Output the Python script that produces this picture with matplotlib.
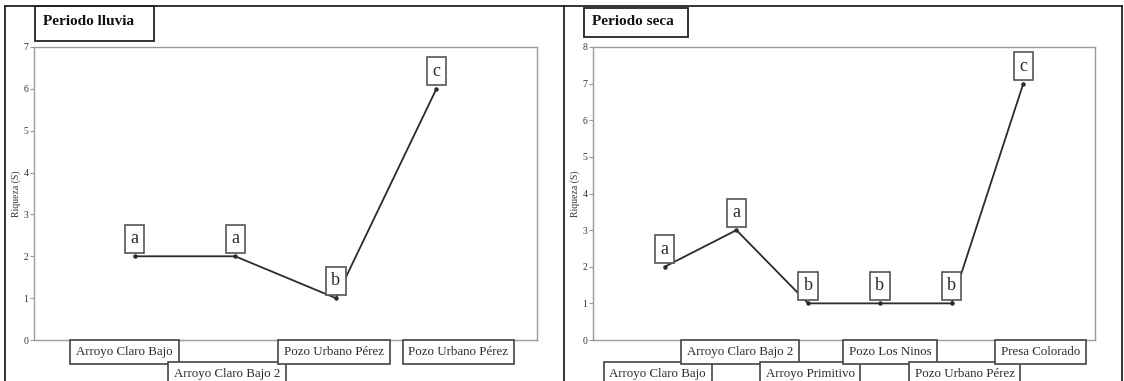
import matplotlib
matplotlib.use("Agg")
import matplotlib.pyplot as plt
from matplotlib.lines import Line2D
from matplotlib.patches import Rectangle

plt.rcParams["font.family"] = ["Liberation Serif", "DejaVu Serif"]

# ---- data -------------------------------------------------------------
lluvia_sitios = ["Arroyo Claro Bajo", "Arroyo Claro Bajo 2",
                 "Pozo Urbano Pérez", "Pozo Urbano Pérez"]
lluvia_riqueza = [2, 2, 1, 6]
lluvia_letras = ["a", "a", "b", "c"]

seca_sitios = ["Arroyo Claro Bajo", "Arroyo Claro Bajo 2", "Arroyo Primitivo",
               "Pozo Los Ninos", "Pozo Urbano Pérez", "Presa Colorado"]
seca_riqueza = [2, 3, 1, 1, 1, 7]
seca_letras = ["a", "a", "b", "b", "b", "c"]

# ---- layout helpers ---------------------------------------------------
W, H = 1124, 381
fig = plt.figure(figsize=(W / 100, H / 100), dpi=100)
fig.patch.set_facecolor("white")


def fx(px):
    return px / W


def fy(py):
    return 1 - py / H


GRID = "#9a9a9a"
INK = "#2b2b2b"


def panel(x0, x1, ymax, sitios, riqueza, letras, rows, dx, titulo, tbox):
    ax = fig.add_axes([fx(x0), fy(340), fx(x1 - x0), (340 - 47) / H])
    n = len(sitios)
    xs = list(range(1, n + 1))
    ax.set_xlim(0, n + 1)
    ax.set_ylim(0, ymax)
    ax.set_yticks(range(0, ymax + 1))
    ax.set_xticks([])
    for s in ax.spines.values():
        s.set_color(GRID)
        s.set_linewidth(1.0)
    ax.tick_params(axis="y", direction="out", length=3, width=0.8,
                   color=GRID, labelsize=7, labelcolor="#333333", pad=1)
    ax.set_ylabel("Riqueza (S)", fontsize=7, color="#333333")
    ax.yaxis.set_label_coords(-13 / (x1 - x0), 0.5)

    ax.plot(xs, riqueza, color=INK, lw=1.3, marker="o", ms=2.2,
            mfc=INK, mec=INK, zorder=3)

    for x, y, l in zip(xs, riqueza, letras):
        ax.annotate(l, xy=(x, y), xytext=(0, 9), textcoords="offset pixels",
                    ha="center", va="bottom", fontsize=13, color=INK,
                    bbox=dict(boxstyle="square,pad=0.3", fc="white",
                              ec="#555555", lw=1.2),
                    annotation_clip=False, zorder=4)

    for x, s, r, d in zip(xs, sitios, rows, dx):
        off = -12 if r == 0 else -34
        ax.annotate(s, xy=(x, 0), xycoords=("data", "axes fraction"),
                    xytext=(d, off), textcoords="offset pixels",
                    ha="center", va="center", fontsize=9.3, color=INK,
                    bbox=dict(boxstyle="square,pad=0.45", fc="white",
                              ec="#444444", lw=1.2),
                    annotation_clip=False, zorder=4)

    bx0, by0, bx1, by1 = tbox
    fig.add_artist(Rectangle((fx(bx0), fy(by1)), fx(bx1 - bx0),
                             (by1 - by0) / H, transform=fig.transFigure,
                             fc="white", ec="#333333", lw=1.4))
    fig.text(fx(bx0 + 8), fy(by0 + (by1 - by0) * 0.45), titulo,
             fontsize=11, fontweight="bold", color="#111111",
             ha="left", va="center")
    return ax


panel(34, 537, 7, lluvia_sitios, lluvia_riqueza, lluvia_letras,
      rows=[0, 1, 0, 0], dx=[-10, -8, -2, 22],
      titulo="Periodo lluvia", tbox=(35, 6, 154, 41))

panel(593, 1095, 8, seca_sitios, seca_riqueza, seca_letras,
      rows=[1, 0, 1, 0, 1, 0], dx=[-7, 4, 2, 10, 13, 17],
      titulo="Periodo seca", tbox=(584, 8, 688, 37))

# outer frame of the two-panel table
frame = dict(color="#222222", lw=1.3, transform=fig.transFigure)
fig.add_artist(Line2D([fx(5), fx(1122)], [fy(6), fy(6)], **frame))
for xv in (5, 564, 1122):
    fig.add_artist(Line2D([fx(xv), fx(xv)], [fy(6), fy(381)], **frame))

fig.savefig("out.png", dpi=100, facecolor="white")
